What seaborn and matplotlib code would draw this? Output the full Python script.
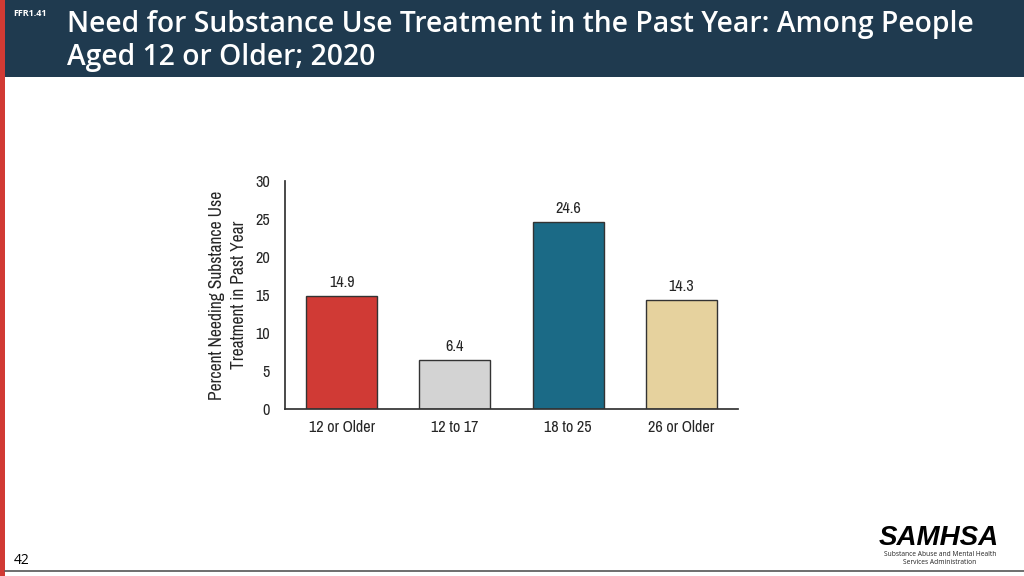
import matplotlib
matplotlib.use("Agg")
import matplotlib.pyplot as plt
import seaborn as sns
import pandas as pd
from matplotlib.patches import Rectangle
from matplotlib.lines import Line2D
from matplotlib import font_manager as fm

categories = ["12 or Older", "12 to 17", "18 to 25", "26 or Older"]
values = [14.9, 6.4, 24.6, 14.3]
colors = ["#D03A35", "#D3D3D3", "#1B6A86", "#E6D29E"]
yticks = [0, 5, 10, 15, 20, 25, 30]

sns.set_theme(style="white")

# look for a condensed (Arial Narrow-like) font, upright and regular weight
def pick():
    cands = []
    for f in fm.fontManager.ttflist:
        n = f.name.lower()
        st = str(f.stretch).lower()
        if f.style != "normal" or f.weight not in (400, "normal", "regular"):
            continue
        if "narrow" in n:
            cands.append((0, f))
        elif st == "condensed" or "condensed" in n:
            cands.append((1, f))
        elif "semi-condensed" in st or "semi" in n:
            cands.append((2, f))
    cands.sort(key=lambda t: t[0])
    return cands[0][1] if cands else None

narrow = pick()
if narrow is not None:
    prop = fm.FontProperties(fname=narrow.fname)
    fs = 11.6
    fsl = 12.6
else:
    prop = fm.FontProperties(family="Liberation Sans")
    fs = 10.5
    fsl = 11
plt.rcParams["font.family"] = ["Liberation Sans", "DejaVu Sans"]

W, H = 1024, 576
fig = plt.figure(figsize=(W / 100, H / 100), dpi=100)

def fx(px): return px / W
def fy(py): return 1 - py / H

fig.patches.append(Rectangle((fx(5), fy(77)), fx(1019), 77 / H, transform=fig.transFigure,
                             facecolor="#1F3A4F", edgecolor="none", zorder=0))
fig.patches.append(Rectangle((0, 0), fx(5), 1, transform=fig.transFigure,
                             facecolor="#D13A34", edgecolor="none", zorder=0))
fig.lines.append(Line2D([fx(5), 1], [fy(571), fy(571)], transform=fig.transFigure,
                        color="#555555", lw=1.2))

fig.text(fx(13), fy(13), "FFR1.41", color="white", fontsize=6.5, fontweight="bold",
         family="Open Sans", va="center", ha="left")
fig.text(fx(67), fy(41), "Need for Substance Use Treatment in the Past Year: Among People\nAged 12 or Older; 2020",
         color="white", fontsize=20.3, fontweight="semibold", family="Open Sans",
         va="center", ha="left", linespacing=1.2)

fig.text(fx(14), fy(560), "42", color="black", fontsize=10, family="Open Sans", va="center")

fig.text(fx(939), fy(538), "SAMHSA", color="black", fontsize=20, fontweight="bold",
         fontstyle="italic", family="Liberation Sans", va="center", ha="center")
fig.text(fx(940), fy(555), "Substance Abuse and Mental Health", color="#222222", fontsize=4.8,
         family="Open Sans", va="center", ha="center")
fig.text(fx(940), fy(563), "Services Administration", color="#222222", fontsize=4.8,
         family="Open Sans", va="center", ha="center")

ax = fig.add_axes([fx(285), fy(409), fx(738 - 285), (409 - 181) / H])
df = pd.DataFrame({"cat": categories, "val": values})
sns.barplot(data=df, x="cat", y="val", hue="cat", palette=colors, legend=False,
            width=0.625, edgecolor="#333333", linewidth=1.0, ax=ax, saturation=1)
ax.set_xlim(-0.5, 3.5)
ax.set_ylim(0, 30)
ax.set_yticks(yticks)
ax.set_yticklabels([str(t) for t in yticks], fontproperties=prop, fontsize=fs)
ax.set_xticks(range(len(categories)))
ax.set_xticklabels(categories, fontproperties=prop, fontsize=fs)
ax.tick_params(axis="y", length=0, pad=11)
ax.tick_params(axis="x", length=0, pad=8)
for s in ["top", "right"]:
    ax.spines[s].set_visible(False)
ax.spines["left"].set_color("#333333")
ax.spines["bottom"].set_color("#333333")
ax.set_xlabel("")
ax.set_ylabel("Percent Needing Substance Use\nTreatment in Past Year", fontproperties=prop,
              fontsize=fsl, labelpad=6, linespacing=1.4)
for i, v in enumerate(values):
    ax.text(i, v + 0.8, f"{v:.1f}", ha="center", va="bottom", fontproperties=prop, fontsize=fs)

fig.savefig("out.png", dpi=100)
